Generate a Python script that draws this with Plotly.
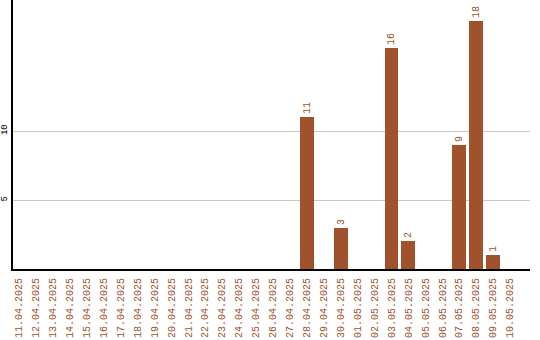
import plotly.graph_objects as go

dates = ["11.04.2025", "12.04.2025", "13.04.2025", "14.04.2025", "15.04.2025",
         "16.04.2025", "17.04.2025", "18.04.2025", "19.04.2025", "20.04.2025",
         "21.04.2025", "22.04.2025", "23.04.2025", "24.04.2025", "25.04.2025",
         "26.04.2025", "27.04.2025", "28.04.2025", "29.04.2025", "30.04.2025",
         "01.05.2025", "02.05.2025", "03.05.2025", "04.05.2025", "05.05.2025",
         "06.05.2025", "07.05.2025", "08.05.2025", "09.05.2025", "10.05.2025"]
counts = [0, 0, 0, 0, 0, 0, 0, 0, 0, 0,
          0, 0, 0, 0, 0, 0, 0, 11, 0, 3,
          0, 0, 16, 2, 0, 0, 9, 18, 1, 0]
y_ticks = [5, 10]

BAR = "#A0522D"
MONO = "Liberation Mono, DejaVu Sans Mono, monospace"

labels = [str(v) if v else "" for v in counts]

fig = go.Figure(go.Bar(
    x=list(range(len(dates))),
    y=counts,
    marker=dict(color=BAR, line=dict(width=0)),
    width=0.82,
    text=labels,
    textposition="outside",
    textangle=-90,
    textfont=dict(family=MONO, size=10, color=BAR),
    cliponaxis=False,
))

fig.update_layout(
    width=540, height=340,
    margin=dict(l=10, r=10, t=0, b=71),
    paper_bgcolor="white",
    plot_bgcolor="white",
    showlegend=False,
    bargap=0,
)

fig.update_xaxes(
    range=[-0.35, 30.18],
    tickmode="array",
    tickvals=list(range(len(dates))),
    ticktext=dates,
    tickangle=-90,
    tickfont=dict(family=MONO, size=10, color=BAR),
    ticklabelstandoff=3,
    showline=True, linecolor="black", linewidth=2,
    showgrid=False, zeroline=False, ticks="",
)

fig.update_yaxes(
    range=[0, 19.5],
    tickmode="array",
    tickvals=y_ticks,
    tickangle=-90,
    tickfont=dict(family=MONO, size=9, color="black"),
    showline=True, linecolor="black", linewidth=2,
    showgrid=True, gridcolor="#c8c8c8", gridwidth=1,
    zeroline=False, ticks="",
)

fig.write_html("out.html")
